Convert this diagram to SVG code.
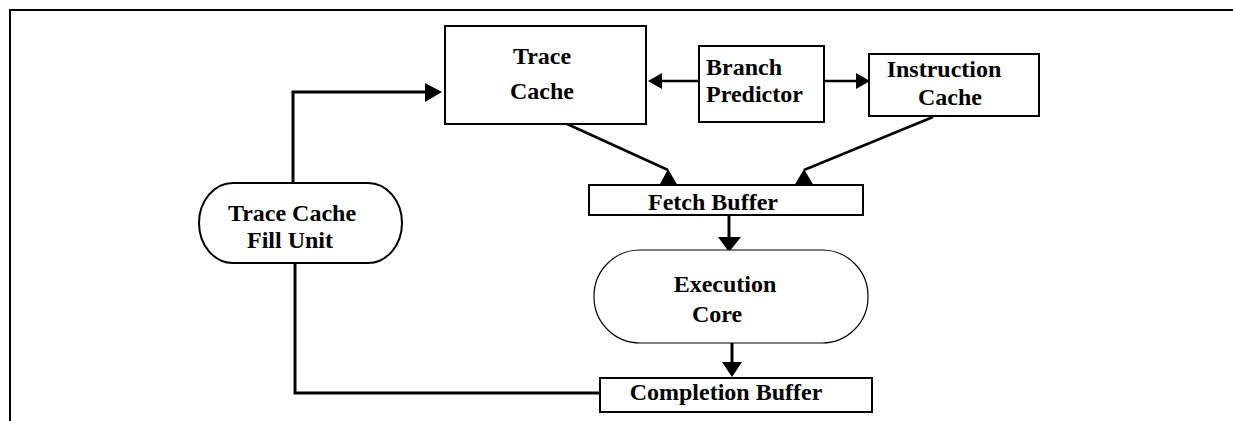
<svg xmlns="http://www.w3.org/2000/svg" width="1233" height="421" viewBox="0 0 1233 421">
<style>
.box{fill:#fff;stroke:#000;stroke-width:2}
.thin{fill:#fff;stroke:#000;stroke-width:1.2}
.ln{fill:none;stroke:#000;stroke-width:2.5}
.ln3{fill:none;stroke:#000;stroke-width:3}
.ah{fill:#000;stroke:none}
text{font-family:"Liberation Serif","Times New Roman",serif;font-weight:bold;font-size:24px;fill:#000}
</style>
<rect width="1233" height="421" fill="#fff"/>
<path d="M10,421 V10 H1233" fill="none" stroke="#000" stroke-width="2"/>
<g id="connectors">
  <path class="ln3" d="M293,183 V92 H428"/>
  <polygon class="ah" points="442,92 425,83 425,102"/>
  <path class="ln3" d="M295,263 V393 H600"/>
  <line class="ln" x1="699" y1="81" x2="660" y2="81"/>
  <polygon class="ah" points="648,81 662,73 662,89"/>
  <line class="ln" x1="824" y1="81" x2="858" y2="81"/>
  <polygon class="ah" points="870,81 856,73 856,89"/>
  <line class="ln" x1="565" y1="123" x2="668" y2="170"/>
  <polygon class="ah" points="668,169 659,186 678,186"/>
  <line class="ln" x1="933" y1="117" x2="804" y2="170"/>
  <polygon class="ah" points="804,169 794,186 814,186"/>
  <line class="ln3" x1="729" y1="215" x2="729" y2="238"/>
  <polygon class="ah" points="729,252 718,237 741,237"/>
  <line class="ln3" x1="732" y1="343" x2="732" y2="363"/>
  <polygon class="ah" points="732,377 722,362 742,362"/>
</g>
<g id="trace-cache">
  <rect class="box" x="445" y="26" width="201" height="98"/>
  <text x="542" y="64" text-anchor="middle">Trace</text>
  <text x="542" y="99" text-anchor="middle">Cache</text>
</g>
<g id="branch-predictor">
  <rect class="box" x="699" y="46" width="125" height="76"/>
  <text x="706" y="75">Branch</text>
  <text x="706" y="102">Predictor</text>
</g>
<g id="instruction-cache">
  <rect class="box" x="869" y="54" width="170" height="62"/>
  <text x="944" y="77" text-anchor="middle">Instruction</text>
  <text x="950" y="105" text-anchor="middle">Cache</text>
</g>
<g id="fetch-buffer">
  <rect class="box" x="589" y="185" width="274" height="30"/>
  <text x="713" y="210" text-anchor="middle">Fetch Buffer</text>
</g>
<g id="execution-core">
  <rect class="thin" x="594" y="250" width="274" height="93" rx="46" ry="46"/>
  <text x="725" y="292" text-anchor="middle">Execution</text>
  <text x="717" y="322" text-anchor="middle">Core</text>
</g>
<g id="completion-buffer">
  <rect class="box" x="600" y="378" width="272" height="34"/>
  <text x="726" y="400" text-anchor="middle">Completion Buffer</text>
</g>
<g id="fill-unit">
  <rect class="box" x="199" y="183" width="203" height="80" rx="34" ry="40"/>
  <text x="292" y="221" text-anchor="middle">Trace Cache</text>
  <text x="290" y="248" text-anchor="middle">Fill Unit</text>
</g>
</svg>
